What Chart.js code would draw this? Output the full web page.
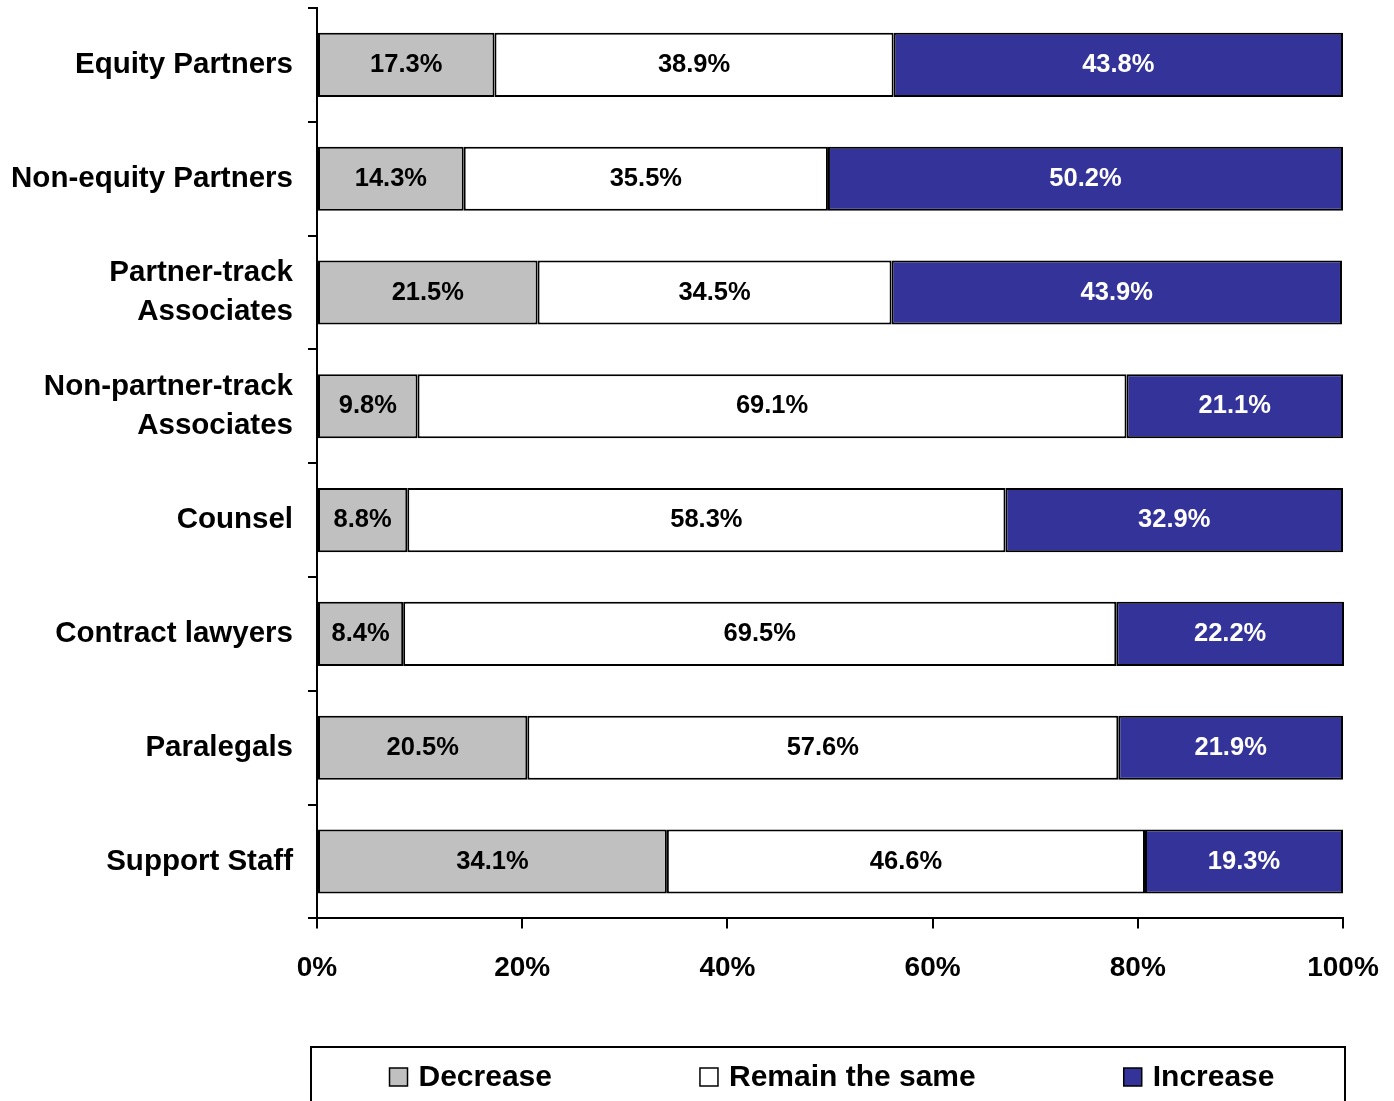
<!DOCTYPE html>
<html>
<head>
<meta charset="utf-8">
<style>
  html, body { margin: 0; padding: 0; background: #fff; overflow: hidden; }
  #wrap { width: 1394px; height: 1101px; }
</style>
<script src="https://cdn.jsdelivr.net/npm/chart.js@4/dist/chart.umd.min.js"></script>
</head>
<body>
<div id="wrap"><canvas id="chart" width="1394" height="1101"></canvas></div>
<script>
// Data
const categories = [
  "Equity Partners",
  "Non-equity Partners",
  ["Partner-track", "Associates"],
  ["Non-partner-track", "Associates"],
  "Counsel",
  "Contract lawyers",
  "Paralegals",
  "Support Staff"
];
const decrease = [17.3, 14.3, 21.5, 9.8, 8.8, 8.4, 20.5, 34.1];
const remainSame = [38.9, 35.5, 34.5, 69.1, 58.3, 69.5, 57.6, 46.6];
const increase = [43.8, 50.2, 43.9, 21.1, 32.9, 22.2, 21.9, 19.3];
const xTicks = [0, 20, 40, 60, 80, 100];

const FONT = "'Liberation Sans', Arial, sans-serif";

// value labels inside each segment
const barLabels = {
  id: "barLabels",
  afterDatasetsDraw(chart) {
    const ctx = chart.ctx;
    ctx.save();
    ctx.font = "bold 25.5px " + FONT;
    ctx.textAlign = "center";
    ctx.textBaseline = "middle";
    chart.data.datasets.forEach((ds, i) => {
      const meta = chart.getDatasetMeta(i);
      meta.data.forEach((bar, j) => {
        const x = (bar.x + bar.base) / 2;
        ctx.fillStyle = ds.labelColor;
        ctx.fillText(ds.data[j].toFixed(1) + "%", x, bar.y);
      });
    });
    ctx.restore();
  }
};

// boxed legend under the plot
const boxLegend = {
  id: "boxLegend",
  afterDraw(chart) {
    const ctx = chart.ctx;
    const area = chart.chartArea;
    const top = chart.height - 54;
    ctx.save();
    ctx.strokeStyle = "#000";
    ctx.lineWidth = 2;
    ctx.strokeRect(area.left - 6, top, area.right - area.left + 8, 80);

    ctx.font = "bold 30px " + FONT;
    ctx.textBaseline = "middle";
    ctx.textAlign = "left";
    const box = 18, gap = 11, spacing = 148;
    const items = chart.data.datasets.map(ds => ({
      text: ds.label,
      color: ds.backgroundColor,
      w: box + gap + ctx.measureText(ds.label).width
    }));
    const total = items.reduce((s, it) => s + it.w, 0) + spacing * (items.length - 1);
    let x = (area.left + area.right) / 2 - total / 2 + 2;
    const y = top + 30;
    items.forEach(it => {
      ctx.fillStyle = it.color;
      ctx.fillRect(x, y - box / 2, box, box);
      ctx.lineWidth = 1.5;
      ctx.strokeRect(x, y - box / 2, box, box);
      ctx.fillStyle = "#000";
      ctx.fillText(it.text, x + box + gap, y + 1);
      x += it.w + spacing;
    });
    ctx.restore();
  }
};

function renderChart() {
  new Chart(document.getElementById("chart").getContext("2d"), {
    type: "bar",
    data: {
      labels: categories,
      datasets: [
        { label: "Decrease", data: decrease, backgroundColor: "#C0C0C0", labelColor: "#000" },
        { label: "Remain the same", data: remainSame, backgroundColor: "#FFFFFF", labelColor: "#000" },
        { label: "Increase", data: increase, backgroundColor: "#333399", labelColor: "#FFFFFF" }
      ].map(ds => Object.assign(ds, {
        borderColor: "#000",
        borderWidth: 2,
        borderSkipped: false,
        categoryPercentage: 1,
        barPercentage: 0.563,
        clip: false
      }))
    },
    options: {
      indexAxis: "y",
      responsive: false,
      animation: false,
      layout: { padding: { top: 8, right: 51, bottom: 93, left: 0 } },
      plugins: {
        legend: { display: false },
        tooltip: { enabled: false }
      },
      scales: {
        x: {
          stacked: true,
          min: 0,
          max: 100,
          afterBuildTicks: (scale) => { scale.ticks = xTicks.map(v => ({ value: v })); },
          afterFit: (scale) => { scale.paddingLeft = 0; scale.paddingRight = 0; },
          ticks: {
            callback: (v) => v + "%",
            color: "#000",
            font: { family: FONT, size: 28, weight: "bold" },
            padding: 23,
            maxRotation: 0
          },
          grid: { drawOnChartArea: false, drawTicks: true, tickLength: 10, color: "#000", lineWidth: 2 },
          border: { display: true, color: "#000", width: 2 }
        },
        y: {
          stacked: true,
          afterFit: (scale) => { scale.width = 317; scale.paddingTop = 0; scale.paddingBottom = 0; },
          ticks: {
            color: "#000",
            font: { family: FONT, size: 29.5, weight: "bold", lineHeight: 1.33 },
            padding: 15
          },
          grid: { drawOnChartArea: false, drawTicks: true, tickLength: 9, offset: true, color: "#000", lineWidth: 2 },
          border: { display: true, color: "#000", width: 2 }
        }
      }
    },
    plugins: [barLabels, boxLegend]
  });
}

document.addEventListener("DOMContentLoaded", renderChart);
</script>
</body>
</html>
